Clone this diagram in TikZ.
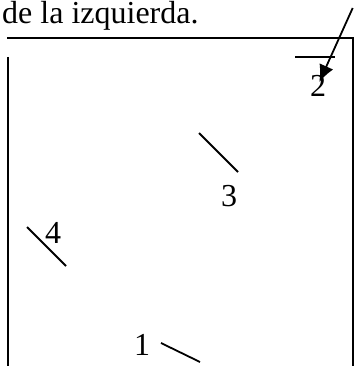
\documentclass[tikz,border=0pt]{standalone}
\usepackage{fontspec}
\setmainfont{Liberation Serif}
\usetikzlibrary{arrows.meta}
\definecolor{figInk}{HTML}{000000}
\tikzset{
  wall/.style={figInk, line width=2pt},
  mark line/.style={figInk, line width=1.8pt},
  num/.style={font=\fontsize{32}{36}\selectfont, figInk, inner sep=0pt},
}

\begin{document}
\begin{tikzpicture}[x=1pt, y=-1pt, line cap=butt]
  \useasboundingbox (0,0) rectangle (359,366);

  % Caption line above the box
  \node[num, anchor=base west] (caption) at (2,24) {de la izquierda.};

  % Walls of the box
  \draw[wall] (7,37.7) -- (352.7,37.7) -- (352.7,366);
  \draw[wall] (8,57) -- (8,366);
  \draw[wall] (295,56.7) -- (335,56.7);

  % Numbered marks
  \node[num] (n2) at (318,86) {2};
  \node[num] (n3) at (229,196) {3};
  \node[num] (n4) at (53,233) {4};
  \node[num] (n1) at (142,345) {1};

  \draw[mark line] (199,133) -- (238,172);
  \draw[mark line] (27,227) -- (66,266);
  \draw[mark line] (161,343) -- (200,362);

  % Arrow coming in from the top edge
  \coordinate (tail) at (352.7,8);
  \coordinate (tip) at (319.3,82);
  \draw[mark line, -{Latex[length=17pt, width=15pt]}] (tail) -- (tip);
\end{tikzpicture}
\end{document}
